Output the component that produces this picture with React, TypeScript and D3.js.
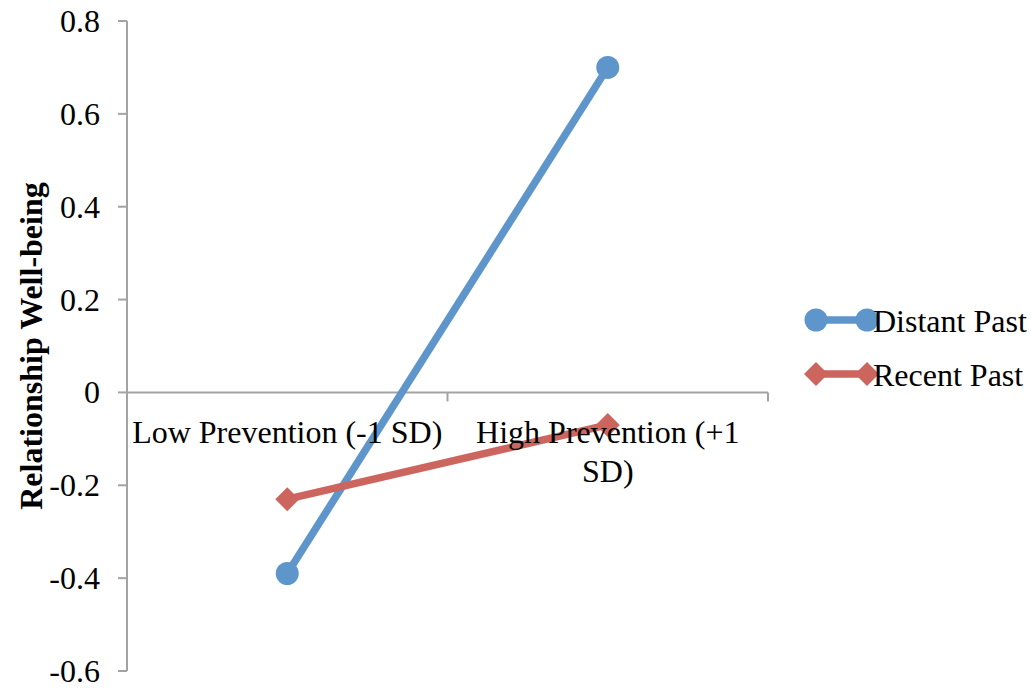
import React, { useEffect, useRef } from "react";
import * as d3 from "d3";

const categories = ["Low Prevention (-1 SD)", "High Prevention (+1 SD)"];
const distantPast = [-0.39, 0.70];
const recentPast = [-0.23, -0.07];
const yTicks = [-0.6, -0.4, -0.2, 0, 0.2, 0.4, 0.6, 0.8];
const seriesNames = ["Distant Past", "Recent Past"];

const W = 1031;
const H = 690;
const FONT = "'Liberation Serif', 'Times New Roman', serif";
const BLUE = "#5E96CB";
const RED = "#CD655F";
const AXIS = "#A3A3A3";
const SW = 7.5;

export default function App() {
  const ref = useRef<SVGSVGElement | null>(null);

  useEffect(() => {
    const svg = d3.select(ref.current);
    svg.selectAll("*").remove();

    const x = d3.scaleBand<string>().domain(categories).range([127, 768]).padding(0);
    const y = d3.scaleLinear().domain([-0.6, 0.8]).range([671, 21]);
    const cx = (c: string) => (x(c) as number) + x.bandwidth() / 2;
    const fmt = (v: number) => (Math.abs(v) < 1e-9 ? "0" : d3.format(".1f")(v).replace("−", "-"));

    // Y axis
    const g = svg.append("g");
    g.append("line")
      .attr("x1", 127).attr("x2", 127)
      .attr("y1", y(0.8)).attr("y2", y(-0.6))
      .attr("stroke", AXIS).attr("stroke-width", 2);
    g.selectAll("line.yt").data(yTicks).enter().append("line")
      .attr("class", "yt")
      .attr("x1", 118).attr("x2", 127)
      .attr("y1", (d) => y(d)).attr("y2", (d) => y(d))
      .attr("stroke", AXIS).attr("stroke-width", 2);
    g.selectAll("text.yl").data(yTicks).enter().append("text")
      .attr("class", "yl")
      .attr("x", 100).attr("y", (d) => y(d) + 11)
      .attr("text-anchor", "end")
      .attr("font-family", FONT).attr("font-size", 32).attr("fill", "#000")
      .text((d) => fmt(d));

    // X axis at 0
    const y0 = y(0);
    g.append("line")
      .attr("x1", 127).attr("x2", 768)
      .attr("y1", y0).attr("y2", y0)
      .attr("stroke", AXIS).attr("stroke-width", 2);
    const xTickPos = [127, ...categories.map((c) => (x(c) as number) + x.bandwidth())];
    g.selectAll("line.xt").data(xTickPos).enter().append("line")
      .attr("class", "xt")
      .attr("x1", (d) => d).attr("x2", (d) => d)
      .attr("y1", y0).attr("y2", y0 + 9)
      .attr("stroke", AXIS).attr("stroke-width", 2);

    // Axis title
    svg.append("text")
      .attr("transform", `translate(42, ${(y(0.8) + y(-0.6)) / 2}) rotate(-90)`)
      .attr("text-anchor", "middle")
      .attr("font-family", FONT).attr("font-size", 32).attr("font-weight", "bold")
      .attr("fill", "#000")
      .text("Relationship Well-being");

    // Series
    const line = d3.line<number>()
      .x((_, i) => cx(categories[i]))
      .y((d) => y(d));

    const diamond = (px: number, py: number, r: number) =>
      `M${px},${py - r}L${px + r},${py}L${px},${py + r}L${px - r},${py}Z`;

    svg.append("path").datum(distantPast)
      .attr("d", line).attr("fill", "none")
      .attr("stroke", BLUE).attr("stroke-width", SW);
    svg.selectAll("circle.dp").data(distantPast).enter().append("circle")
      .attr("class", "dp")
      .attr("cx", (_, i) => cx(categories[i])).attr("cy", (d) => y(d))
      .attr("r", 11.5).attr("fill", BLUE);

    svg.append("path").datum(recentPast)
      .attr("d", line).attr("fill", "none")
      .attr("stroke", RED).attr("stroke-width", SW);
    svg.selectAll("path.rp").data(recentPast).enter().append("path")
      .attr("class", "rp")
      .attr("d", (d, i) => diamond(cx(categories[i]), y(d), 12))
      .attr("fill", RED);

    // Category labels with wrapping
    categories.forEach((c) => {
      const t = svg.append("text")
        .attr("x", cx(c)).attr("y", 443)
        .attr("text-anchor", "middle")
        .attr("font-family", FONT).attr("font-size", 32).attr("fill", "#000");
      const words = c.split(" ");
      let lineWords: string[] = [];
      let tspan = t.append("tspan").attr("x", cx(c)).attr("dy", 0);
      words.forEach((w) => {
        lineWords.push(w);
        tspan.text(lineWords.join(" "));
        const len = (tspan.node() as SVGTextContentElement).getComputedTextLength();
        if (len > x.bandwidth() - 4 && lineWords.length > 1) {
          lineWords.pop();
          tspan.text(lineWords.join(" "));
          lineWords = [w];
          tspan = t.append("tspan").attr("x", cx(c)).attr("dy", 39).text(w);
        }
      });
    });

    // Legend
    const legendY = [320, 374];
    const lg = svg.append("g");
    seriesNames.forEach((name, i) => {
      const ly = legendY[i];
      const color = i === 0 ? BLUE : RED;
      lg.append("line")
        .attr("x1", 816).attr("x2", 867)
        .attr("y1", ly).attr("y2", ly)
        .attr("stroke", color).attr("stroke-width", SW);
      [816, 867].forEach((mx) => {
        if (i === 0) {
          lg.append("circle").attr("cx", mx).attr("cy", ly).attr("r", 11.5).attr("fill", color);
        } else {
          lg.append("path").attr("d", diamond(mx, ly, 12)).attr("fill", color);
        }
      });
      lg.append("text")
        .attr("x", 873).attr("y", ly + 12)
        .attr("font-family", FONT).attr("font-size", 32).attr("fill", "#000")
        .text(name);
    });
  }, []);

  return (
    <svg
      ref={ref}
      width={W}
      height={H}
      style={{ position: "absolute", left: 0, top: 0, background: "#fff" }}
    />
  );
}
